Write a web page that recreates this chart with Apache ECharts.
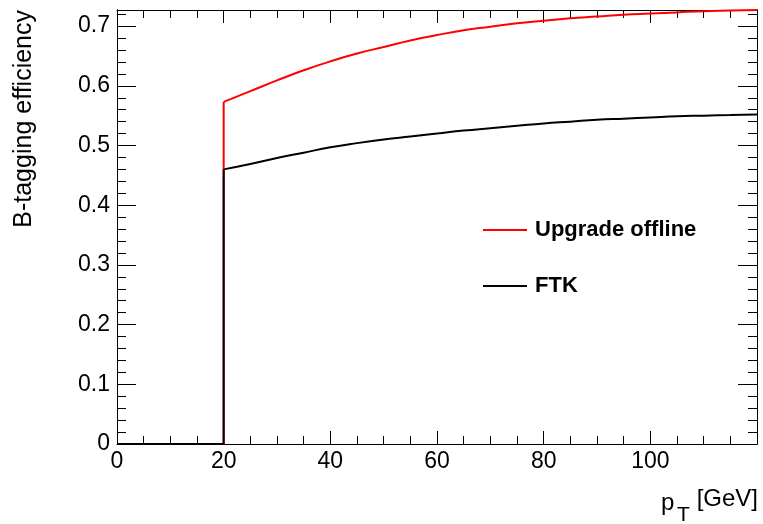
<!DOCTYPE html>
<html>
<head>
<meta charset="utf-8">
<script src="https://cdn.jsdelivr.net/npm/echarts@6/dist/echarts.min.js"></script>
<style>
html, body { margin: 0; background: #fff; }
#chart { width: 763px; height: 524px; }
</style>
</head>
<body>
<div id="chart"></div>
<script>
// pT points (GeV), the step at 20 GeV is a repeated x
var ptValues   = [0, 20, 20, 25, 30, 35, 40, 45, 50, 55, 60, 65, 70, 75, 80, 85, 90, 95, 100, 105, 110, 115, 120];
var offlineEff = [0, 0, 0.573, 0.591, 0.609, 0.626, 0.641, 0.654, 0.665, 0.676, 0.685, 0.693, 0.699, 0.705, 0.709, 0.713, 0.716, 0.719, 0.721, 0.723, 0.725, 0.726, 0.727];
var ftkEff     = [0, 0, 0.460, 0.469, 0.479, 0.488, 0.497, 0.504, 0.510, 0.515, 0.520, 0.525, 0.529, 0.533, 0.537, 0.540, 0.543, 0.545, 0.547, 0.549, 0.550, 0.551, 0.552];
var seriesNames = ['Upgrade offline', 'FTK'];
var seriesColors = ['#ff0000', '#000000'];
var stepIndex = 2; // first point above threshold

var xMin = 0, xMax = 120, xStep = 20;
var yMin = 0, yMax = 0.727, yStep = 0.1, yMinorStep = 0.02;

var fontFam = '"Liberation Sans", Arial, Helvetica, sans-serif';

function pairs(ys, from, to) {
    var res = [];
    for (var i = from; i < to; i++) {
        res.push([ptValues[i], ys[i]]);
    }
    return res;
}

function xAxisDef(pos, showLabel) {
    return {
        type: 'value', position: pos, min: xMin, max: xMax, interval: xStep,
        axisLine: { show: true, onZero: false, lineStyle: { color: '#000', width: 1 } },
        axisTick: { show: true, inside: true, length: 13, lineStyle: { color: '#000' } },
        minorTick: { show: true, splitNumber: 4, length: 8, lineStyle: { color: '#000' } },
        axisLabel: { show: showLabel, showMaxLabel: false, color: '#000', fontSize: 23, margin: 6, fontFamily: fontFam },
        splitLine: { show: false }
    };
}

function yAxisDef(pos, step, tickLen, showLabel) {
    return {
        type: 'value', position: pos, min: yMin, max: yMax, interval: step,
        axisLine: { show: true, onZero: false, lineStyle: { color: '#000', width: 1 } },
        axisTick: { show: true, inside: true, length: tickLen, lineStyle: { color: '#000' } },
        axisLabel: { show: showLabel, showMaxLabel: false, color: '#000', fontSize: 23, margin: 7, fontFamily: fontFam },
        splitLine: { show: false }
    };
}

// curve part (smooth) + threshold step part (straight) for each sample
function makeSeries(name, ys, color) {
    return [
        {
            name: name, type: 'line', data: pairs(ys, stepIndex, ptValues.length),
            showSymbol: false, symbol: 'none', color: color, smooth: 0.5,
            lineStyle: { color: color, width: 2 }
        },
        {
            name: name + ' step', type: 'line', data: pairs(ys, 0, stepIndex + 1),
            showSymbol: false, symbol: 'none', color: color,
            lineStyle: { color: color, width: 2 }
        }
    ];
}

var myChart = echarts.init(document.getElementById('chart'));

var option = {
    animation: false,
    backgroundColor: '#fff',
    grid: { left: 117, right: 6, top: 10, bottom: 80, containLabel: false },
    xAxis: [ xAxisDef('bottom', true), xAxisDef('top', false) ],
    yAxis: [
        yAxisDef('left', yStep, 19, true),
        yAxisDef('left', yMinorStep, 9, false),
        yAxisDef('right', yStep, 19, false),
        yAxisDef('right', yMinorStep, 9, false)
    ],
    legend: {
        orient: 'vertical', left: 478, top: 214,
        icon: 'rect', itemWidth: 44, itemHeight: 2, itemGap: 34,
        data: seriesNames,
        textStyle: { color: '#000', fontSize: 22, fontWeight: 'bold', fontFamily: fontFam, padding: [0, 0, 0, 3] }
    },
    series: makeSeries(seriesNames[0], offlineEff, seriesColors[0])
        .concat(makeSeries(seriesNames[1], ftkEff, seriesColors[1])),
    graphic: [
        {
            type: 'text', x: 24, y: 10, rotation: Math.PI / 2,
            style: { text: 'B-tagging efficiency', fontSize: 25, fontFamily: fontFam, fill: '#000', align: 'right', verticalAlign: 'middle' }
        },
        {
            type: 'text', x: 661, y: 503,
            style: { text: 'p', fontSize: 24, fontFamily: fontFam, fill: '#000', align: 'left', verticalAlign: 'middle' }
        },
        {
            type: 'text', x: 677, y: 515,
            style: { text: 'T', fontSize: 21, fontFamily: fontFam, fill: '#000', align: 'left', verticalAlign: 'middle' }
        },
        {
            type: 'text', x: 758, y: 499,
            style: { text: '[GeV]', fontSize: 24, fontFamily: fontFam, fill: '#000', align: 'right', verticalAlign: 'middle' }
        }
    ]
};

myChart.setOption(option);
</script>
</body>
</html>
